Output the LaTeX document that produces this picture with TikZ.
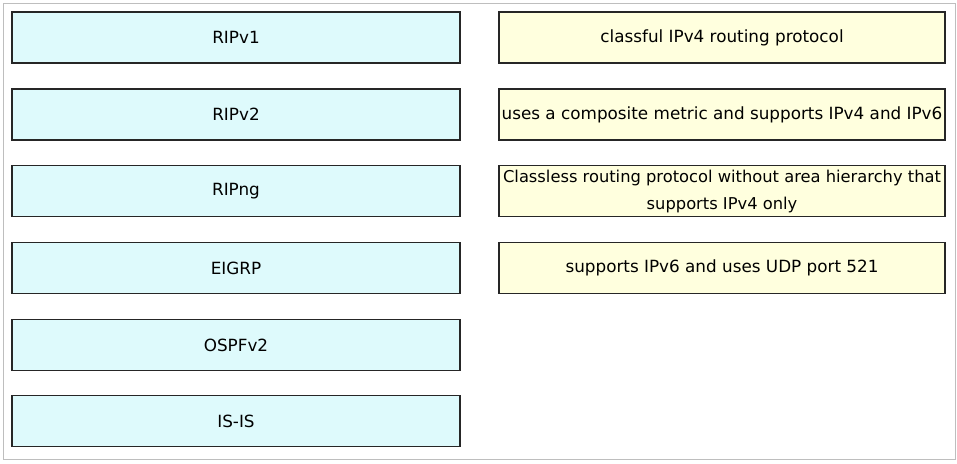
\documentclass[tikz,border=0pt]{standalone}
\usepackage{fontspec}
\setmainfont{DejaVu Sans}
\definecolor{protofill}{RGB}{222,250,252}
\definecolor{descfill}{RGB}{255,255,222}
\definecolor{framegray}{RGB}{190,190,190}
\begin{document}
\begin{tikzpicture}[x=1pt,y=-1pt,
    protobox/.style={draw=black!85,fill=protofill,line width=1.2pt,minimum width=448pt,minimum height=51pt,inner sep=0pt,font=\fontsize{16.8}{26}\selectfont},
    descbox/.style={draw=black!85,fill=descfill,line width=1.2pt,minimum width=446pt,minimum height=51pt,inner sep=0pt,align=center,font=\fontsize{16.8}{26}\selectfont}]
  \useasboundingbox (0,0) rectangle (957,463);
  % cadre exterieur
  \draw[framegray,line width=1pt] (3,3) rectangle (955,459);
  % protocoles (colonne gauche)
  \node[protobox] (ripa) at (236,37.5) {RIPv1};
  \node[protobox] (ripb) at (236,114.5) {RIPv2};
  \node[protobox] (ripng) at (236,191) {RIPng};
  \node[protobox] (eigrp) at (236,268) {EIGRP};
  \node[protobox] (ospf) at (236,345) {OSPFv2};
  \node[protobox] (isis) at (236,421) {IS-IS};
  % descriptions (colonne droite)
  \node[descbox] (classful) at (722,37.5) {classful IPv4 routing protocol};
  \node[descbox] (composite) at (722,114.5) {uses a composite metric and supports IPv4 and IPv6};
  \node[descbox,font=\fontsize{16.3}{27}\selectfont] (classless) at (722,191) {Classless routing protocol without area hierarchy that\\supports IPv4 only};
  \node[descbox] (udp) at (722,268) {supports IPv6 and uses UDP port 521};
\end{tikzpicture}
\end{document}
